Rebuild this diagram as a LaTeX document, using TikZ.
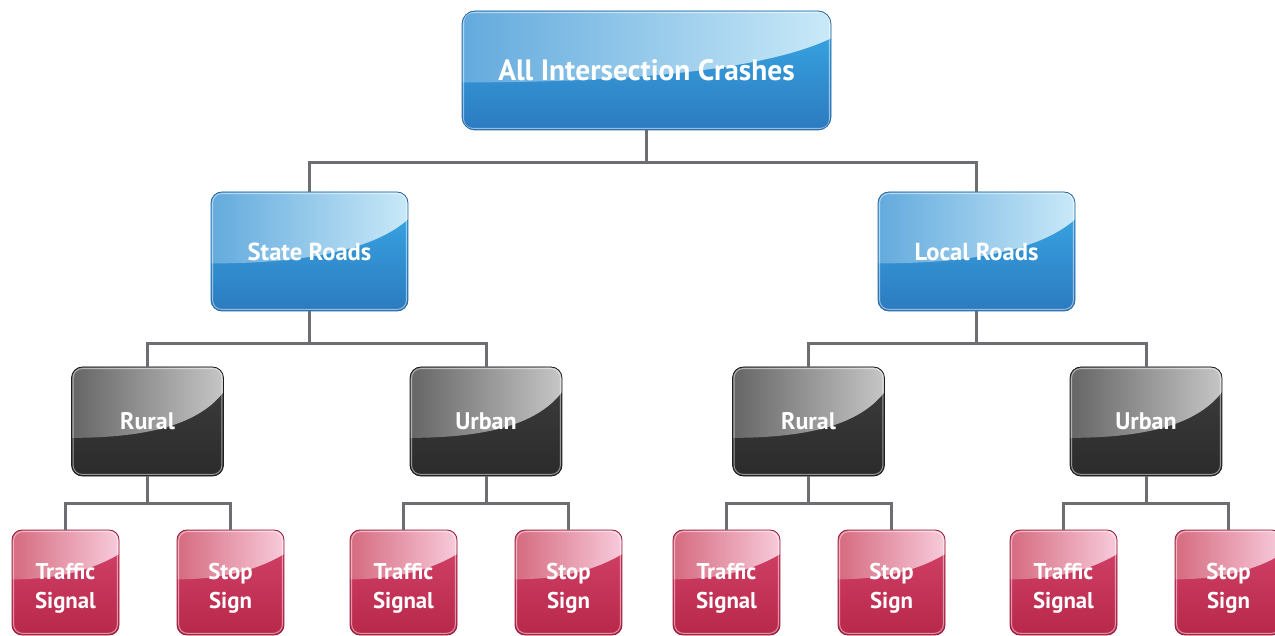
\documentclass[tikz,border=0pt]{standalone}
\usepackage{fontspec}
\setsansfont{PT Sans}
\usetikzlibrary{calc}
\definecolor{conn}{HTML}{6D6E71}
\definecolor{bTop}{HTML}{3AACE7}\definecolor{bBot}{HTML}{2C7AC0}
\definecolor{bGl}{HTML}{63AADD}\definecolor{bGr}{HTML}{C9E9F8}\definecolor{bEd}{HTML}{2A6AA3}
\definecolor{dTop}{HTML}{3E3E3E}\definecolor{dBot}{HTML}{2B2B2B}
\definecolor{dGl}{HTML}{656565}\definecolor{dGr}{HTML}{C6C6C6}\definecolor{dEd}{HTML}{1E1E1E}
\definecolor{rTop}{HTML}{D5446B}\definecolor{rBot}{HTML}{B8284A}
\definecolor{rGl}{HTML}{D66A7F}\definecolor{rGr}{HTML}{F7CBDB}\definecolor{rEd}{HTML}{9A1F3E}
\tikzset{
  glossy/.style n args={6}{
    rounded corners=11pt, draw=#5, line width=0.8pt, text=white,
    font=\sffamily\bfseries, align=center, inner sep=0pt,
    path picture={
      \fill[top color=#1,bottom color=#2,sharp corners]
        (path picture bounding box.north west) rectangle (path picture bounding box.south east);
      \shade[left color=#3,right color=#4,sharp corners]
        let \p1=(path picture bounding box.north west),
            \p2=(path picture bounding box.south east),
            \n1={\y1-\y2}, \n2={\x2-\x1} in
        (\x1,\y1) -- (\x1,{\y1-#6*\n1})
        .. controls ({\x1+0.55*\n2},{\y1-#6*\n1}) and ({\x1+0.85*\n2},{\y1-(#6-0.15)*\n1})
        .. (\x2,{\y1-0.23*\n1}) -- (\x2,\y1) -- cycle;
      \draw[white,opacity=0.5,line width=1pt,rounded corners=9pt]
        ($(path picture bounding box.north west)+(1.6pt,-1.6pt)$) rectangle
        ($(path picture bounding box.south east)+(-1.6pt,1.6pt)$);
    }},
  bluebox/.style={glossy={bTop}{bBot}{bGl}{bGr}{bEd}{0.6}},
  darkbox/.style={glossy={dTop}{dBot}{dGl}{dGr}{dEd}{0.65}, minimum width=152pt, minimum height=109pt, font=\sffamily\bfseries\fontsize{24}{28}\selectfont},
  redbox/.style={glossy={rTop}{rBot}{rGl}{rGr}{rEd}{0.47}, rounded corners=10pt, minimum width=107pt, minimum height=105pt, font=\sffamily\bfseries\fontsize{22.8}{29}\selectfont},
  link/.style={conn, line width=3pt}
}
\newcommand\lowr{\rule{0pt}{28pt}}
\begin{document}
\begin{tikzpicture}[x=1pt,y=-1pt]
\useasboundingbox (0,0) rectangle (1275,636);
% nodes
\node[bluebox, minimum width=369pt, minimum height=119pt, rounded corners=13pt,
      font=\sffamily\bfseries\fontsize{29.4}{34}\selectfont] (top) at (646.5,70.5) {All Intersection Crashes};
\node[bluebox, minimum width=197pt, minimum height=119pt, font=\sffamily\bfseries\fontsize{24.6}{28}\selectfont] (state) at (309.5,251.5) {State Roads};
\node[bluebox, minimum width=197pt, minimum height=119pt, font=\sffamily\bfseries\fontsize{24.6}{28}\selectfont] (local) at (976.5,251.5) {Local Roads};
\node[darkbox] (r1) at (147.5,421.5) {Rural};
\node[darkbox] (u1) at (486,421.5) {Urban};
\node[darkbox] (r2) at (808.5,421.5) {Rural};
\node[darkbox] (u2) at (1146,421.5) {Urban};
\node[redbox] (t1) at (65.5,582.5) {\lowr Traffic\\Signal};
\node[redbox] (s1) at (230.5,582.5) {\lowr Stop\\Sign};
\node[redbox] (t2) at (403.5,582.5) {\lowr Traffic\\Signal};
\node[redbox] (s2) at (568.5,582.5) {\lowr Stop\\Sign};
\node[redbox] (t3) at (726.5,582.5) {\lowr Traffic\\Signal};
\node[redbox] (s3) at (891.5,582.5) {\lowr Stop\\Sign};
\node[redbox] (t4) at (1063.5,582.5) {\lowr Traffic\\Signal};
\node[redbox] (s4) at (1228.5,582.5) {\lowr Stop\\Sign};
% connectors
\coordinate (j0) at ($(top.south)+(0,32)$);
\draw[link] (top.south) -- (j0) -| (state.north);
\draw[link] (j0) -| (local.north);
\coordinate (j1) at ($(state.south)+(0,32)$);
\draw[link] (state.south) -- (j1) -| (r1.north);
\draw[link] (j1) -| (u1.north);
\coordinate (j2) at ($(local.south)+(0,32)$);
\draw[link] (local.south) -- (j2) -| (r2.north);
\draw[link] (j2) -| (u2.north);
\coordinate (k1) at ($(r1.south)+(0,27)$);
\draw[link] (r1.south) -- (k1) -| (t1.north);
\draw[link] (k1) -| (s1.north);
\coordinate (k2) at ($(u1.south)+(0,27)$);
\draw[link] (u1.south) -- (k2) -| (t2.north);
\draw[link] (k2) -| (s2.north);
\coordinate (k3) at ($(r2.south)+(0,27)$);
\draw[link] (r2.south) -- (k3) -| (t3.north);
\draw[link] (k3) -| (s3.north);
\coordinate (k4) at ($(u2.south)+(0,27)$);
\draw[link] (u2.south) -- (k4) -| (t4.north);
\draw[link] (k4) -| (s4.north);
\end{tikzpicture}
\end{document}
